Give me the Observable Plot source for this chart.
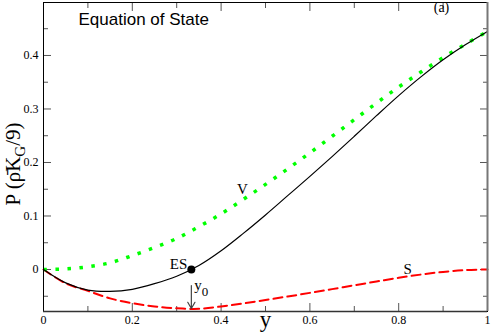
<!DOCTYPE html>
<html><head><meta charset="utf-8">
<script src="https://cdn.jsdelivr.net/npm/d3@7"></script>
<script src="https://cdn.jsdelivr.net/npm/@observablehq/plot@0.6"></script>
<style>body{margin:0;background:#fff} svg{display:block}</style>
</head><body><div id="chart"></div>
<script>
// reduced variable y and the three curves (units of rho K_G / 9)
const yValues     = [0, 0.05, 0.1, 0.15, 0.2, 0.25, 0.3, 0.35, 0.4, 0.45, 0.5, 0.55, 0.6, 0.65, 0.7, 0.75, 0.8, 0.85, 0.9, 0.95, 1];
const pressure    = [0, -0.025, -0.0385, -0.041, -0.037, -0.0265, -0.0125, 0.0075, 0.035, 0.0675, 0.102, 0.138, 0.174, 0.211, 0.249, 0.2875, 0.325, 0.360, 0.392, 0.420, 0.445];
const volumeTerm  = [0, 0.001, 0.005, 0.0125, 0.026, 0.041, 0.058, 0.080, 0.104, 0.131, 0.159, 0.188, 0.218, 0.249, 0.280, 0.311, 0.341, 0.369, 0.396, 0.421, 0.445];
const surfaceTerm = [0, -0.026, -0.040, -0.054, -0.063, -0.069, -0.0725, -0.0735, -0.069, -0.0635, -0.057, -0.0505, -0.0437, -0.0367, -0.0295, -0.0225, -0.0155, -0.0095, -0.0045, -0.0012, 0];

const xMajorTicks = [0, 0.2, 0.4, 0.6, 0.8, 1];
const xTickLabels = ["0", "0.2", "0.4", "0.6", "0.8", "1"];
const xMinorTicks = [0.1, 0.3, 0.5, 0.7, 0.9];
const yMajorTicks = [0, 0.1, 0.2, 0.3, 0.4];
const yTickLabels = ["0", "0.1", "0.2", "0.3", "0.4"];
const yMinorTicks = [-0.05, 0.05, 0.15, 0.25, 0.35, 0.45];

const equilibrium = [{y: 0.333, P: 0}];
const arrowData   = [{y: 0.333, from: -0.030, to: -0.073}];
const curveLabels = [
  {y: 0.448, P: 0.151, text: "V"},
  {y: 0.820, P: 0.000, text: "S"}
];
const titleText = "Equation of State";
const panelText = "(a)";
const xLabel = "y";
const yLabel = "P (ρ\u0304KG/9)";

const rows = yValues.map((y, i) => ({y, P: pressure[i], V: volumeTerm[i], S: surfaceTerm[i]}));

const serif = "'Liberation Serif', 'Times New Roman', serif";
const sans = "'Liberation Sans', Arial, sans-serif";
const tickColor = "#555";
const ax = {stroke: tickColor, label: null, fontFamily: serif};

const chart = Plot.plot({
  width: 491, height: 334,
  marginLeft: 43, marginRight: 4, marginTop: 2, marginBottom: 23,
  style: {fontFamily: serif, background: "#fff", overflow: "visible"},
  x: {domain: [0, 1]},
  y: {domain: [-0.0785, 0.499]},
  marks: [
    // ticks (inward, on all four sides)
    Plot.axisX(xMajorTicks, {...ax, anchor: "bottom", tickSize: -8, tickPadding: 12, fill: "black", fontSize: 12, tickFormat: d => xTickLabels[xMajorTicks.indexOf(d)]}),
    Plot.axisX(xMinorTicks, {...ax, anchor: "bottom", tickSize: -5, tickFormat: () => ""}),
    Plot.axisX(xMajorTicks, {...ax, anchor: "top", tickSize: -8, tickFormat: () => ""}),
    Plot.axisX(xMinorTicks, {...ax, anchor: "top", tickSize: -5, tickFormat: () => ""}),
    Plot.axisY(yMajorTicks, {...ax, anchor: "left", tickSize: -8, tickPadding: 13, fill: "black", fontSize: 12, tickFormat: d => yTickLabels[yMajorTicks.indexOf(d)]}),
    Plot.axisY(yMinorTicks, {...ax, anchor: "left", tickSize: -5, tickFormat: () => ""}),
    Plot.axisY(yMajorTicks, {...ax, anchor: "right", tickSize: -8, tickFormat: () => ""}),
    Plot.axisY(yMinorTicks, {...ax, anchor: "right", tickSize: -5, tickFormat: () => ""}),
    // curves
    Plot.line(rows, {x: "y", y: "S", stroke: "#ff0000", strokeWidth: 2, strokeDasharray: "9,5", curve: "catmull-rom"}),
    Plot.line(rows, {x: "y", y: "V", stroke: "#00ff00", strokeWidth: 3.5, strokeDasharray: "3.5,8.5", strokeLinecap: "butt", curve: "catmull-rom"}),
    Plot.line(rows, {x: "y", y: "P", stroke: "black", strokeWidth: 1.2, curve: "catmull-rom"}),
    Plot.dot(equilibrium, {x: "y", y: "P", r: 4, fill: "black"}),
    Plot.text(equilibrium, {x: "y", y: "P", text: () => "ES", textAnchor: "end", lineAnchor: "bottom", dx: -4, dy: 0, fontSize: 15}),
    Plot.arrow(arrowData, {x1: "y", x2: "y", y1: "from", y2: "to", stroke: "#444", strokeWidth: 1.2, headLength: 9}),
    Plot.text(arrowData, {x: "y", y: "from", text: () => "y0", textAnchor: "start", lineAnchor: "bottom", dx: 3, dy: 4, fontSize: 15}),
    Plot.text(curveLabels, {x: "y", y: "P", text: "text", fontSize: 15}),
    // annotations
    Plot.text([titleText], {frameAnchor: "top-left", dx: 35, dy: 10, textAnchor: "start", lineAnchor: "top", text: d => d, fontFamily: sans, fontSize: 17}),
    Plot.text([panelText], {frameAnchor: "top-right", dx: -46, dy: 0, textAnchor: "middle", lineAnchor: "top", text: d => d, fontSize: 14}),
    Plot.text([xLabel], {frameAnchor: "bottom", dy: 15, textAnchor: "middle", lineAnchor: "bottom", text: d => d, fontSize: 23}),
    Plot.text([yLabel], {frameAnchor: "left", dx: -24, dy: 7, rotate: -90, textAnchor: "middle", lineAnchor: "bottom", text: d => d, fontSize: 21}),
    // frame
    Plot.frame({stroke: "black", strokeWidth: 1}),
    Plot.ruleY([-0.0785], {stroke: "#333", strokeWidth: 1.5}),
    Plot.ruleX([1], {stroke: "#777", strokeWidth: 2})
  ]
});

// subscripts
d3.select(chart).selectAll("text").each(function() {
  const t = d3.select(this);
  const s = this.textContent;
  if (s === yLabel) {
    t.text(null);
    t.append("tspan").text("P (ρ\u0304K");
    t.append("tspan").attr("dy", 5).attr("font-size", 15).text("G");
    t.append("tspan").attr("dy", -5).text("/9)");
  } else if (s === "y0") {
    t.text(null);
    t.append("tspan").text("y");
    t.append("tspan").attr("dy", 6).attr("font-size", 13).text("0");
  }
});

document.getElementById("chart").appendChild(chart);
</script>
</body></html>
